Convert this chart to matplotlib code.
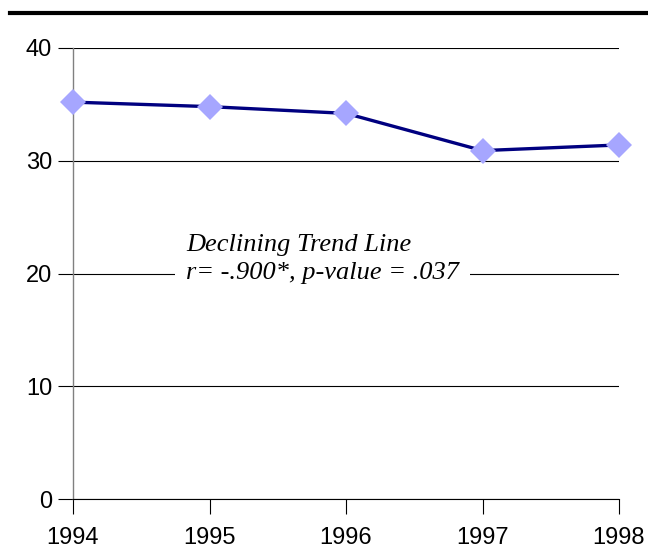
import matplotlib.pyplot as plt
from matplotlib.lines import Line2D

# data
years = [1994, 1995, 1996, 1997, 1998]
values = [35.2, 34.8, 34.2, 30.9, 31.4]
y_ticks = [0, 10, 20, 30, 40]

fig = plt.figure(figsize=(6.48, 5.5), dpi=100)
ax = fig.add_axes([73 / 648, 1 - 499 / 550, (619 - 73) / 648, (499 - 48) / 550])

ax.plot(years, values, color='#000080', linewidth=2.4, zorder=3)
ax.plot(years, values, linestyle='none', marker='D', markersize=13.5,
        color='#A6A6FF', markeredgewidth=0, zorder=4, clip_on=False)

ax.set_xlim(1994, 1998)
ax.set_ylim(0, 40)
ax.set_xticks(years)
ax.set_yticks(y_ticks)
ax.yaxis.grid(True, color='black', linewidth=0.8)
ax.set_axisbelow(True)

for s in ['top', 'right']:
    ax.spines[s].set_visible(False)
ax.spines['left'].set_color('#808080')
ax.spines['left'].set_linewidth(1.0)
ax.spines['bottom'].set_color('black')
ax.spines['bottom'].set_linewidth(0.8)

ax.tick_params(axis='y', length=11, width=0.8, color='black', pad=4,
               labelsize=17, labelfontfamily='Liberation Sans')
ax.tick_params(axis='x', length=10.5, width=0.8, color='black', pad=10,
               labelsize=17, labelfontfamily='Liberation Sans')

# annotation (second line sits on a white box that breaks the 20 gridline)
tfont = dict(family='Liberation Serif', style='italic', size=19)
ax.text(1994.83, 22.5, 'Declining Trend Line', ha='left', va='center',
        zorder=6, **tfont)
ax.text(1994.83, 20.0, 'r= -.900*, p-value = .037', ha='left', va='center',
        bbox=dict(facecolor='white', edgecolor='none', pad=8), zorder=5, **tfont)

# thick rule at the top of the figure
fig.add_artist(Line2D([10 / 648, 1.0], [1 - 13 / 550, 1 - 13 / 550],
                      color='black', linewidth=3, transform=fig.transFigure))

fig.savefig('out.png', dpi=100)
